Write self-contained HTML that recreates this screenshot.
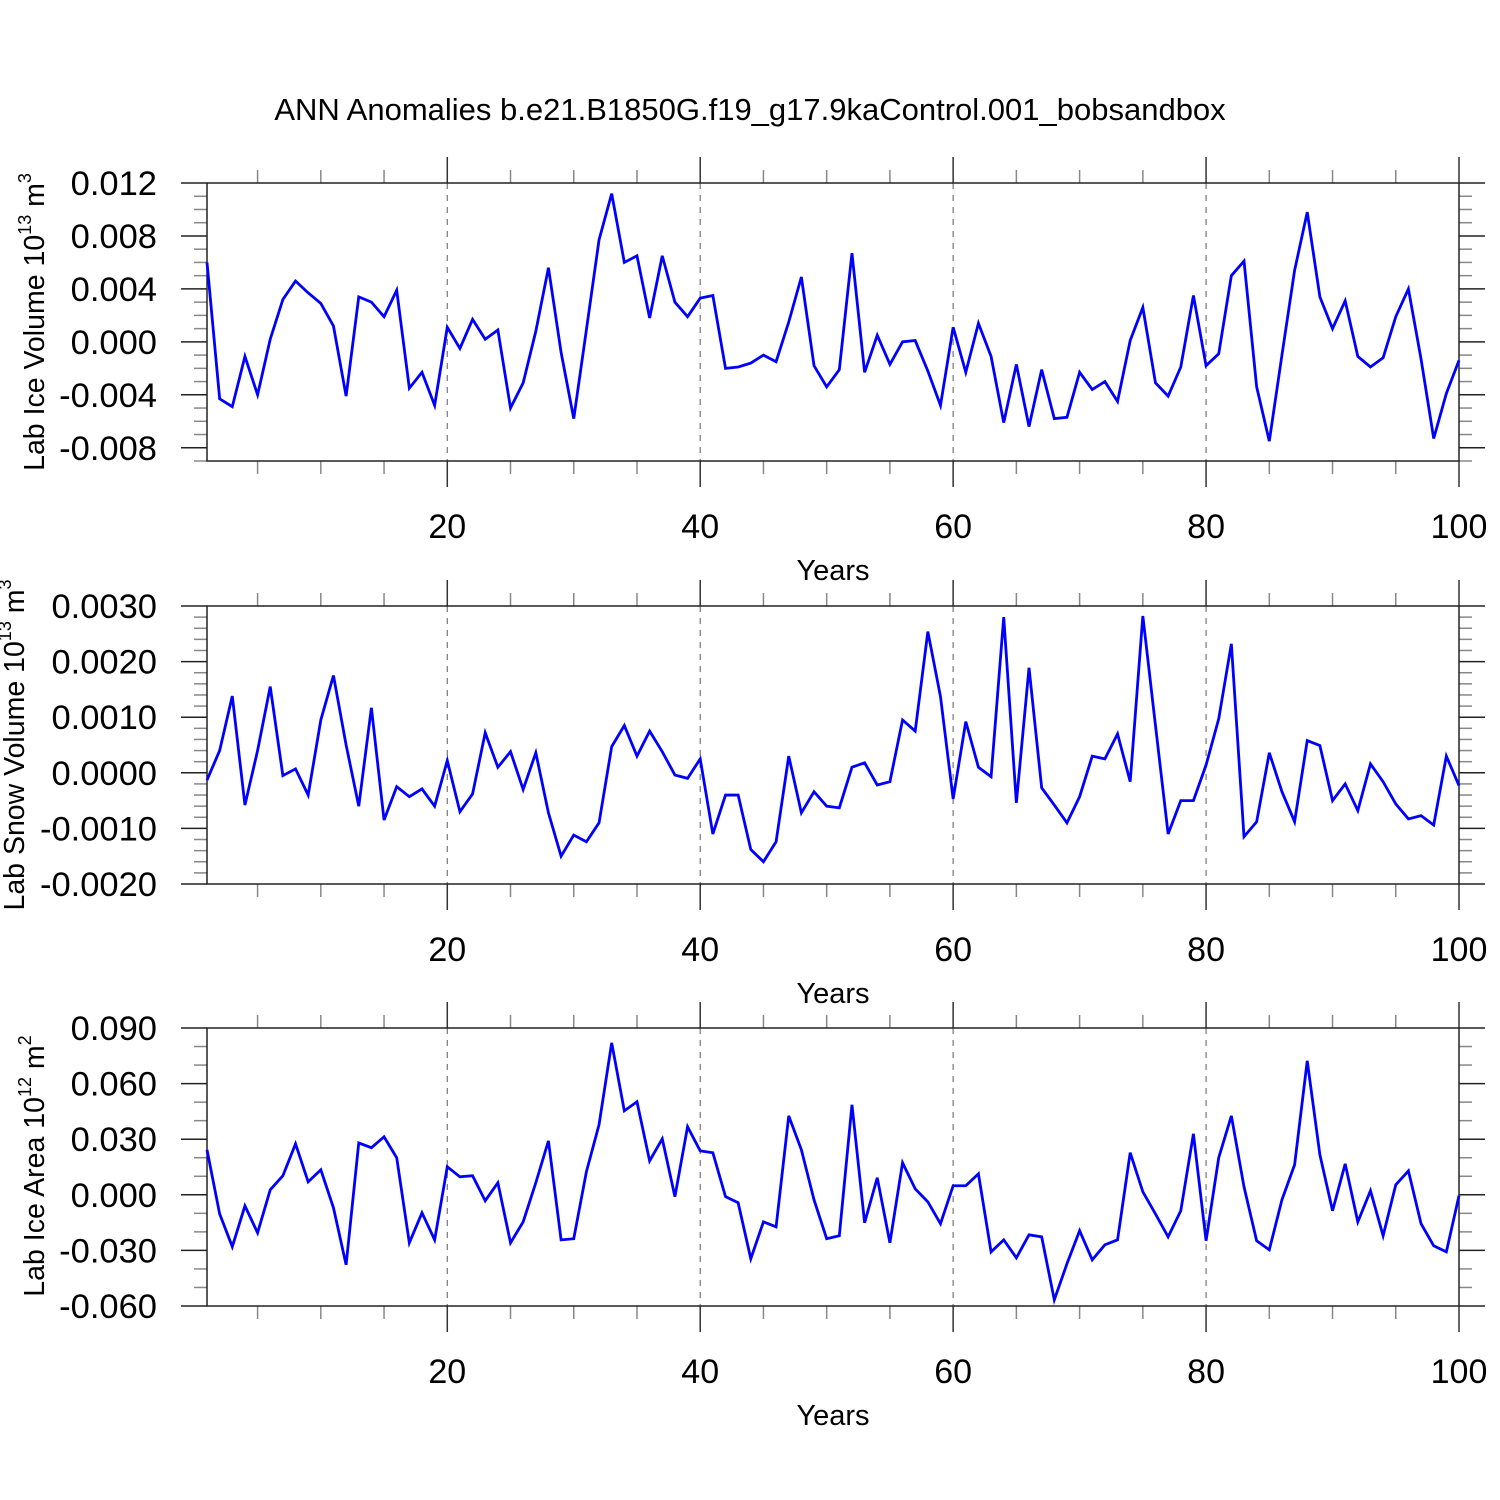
<!DOCTYPE html>
<html><head><meta charset="utf-8"><style>
html,body{margin:0;padding:0;background:#fff;}
svg{display:block;font-family:"Liberation Sans",sans-serif;}
</style></head><body>
<svg id="chart" width="1500" height="1500" viewBox="0 0 1500 1500" xmlns="http://www.w3.org/2000/svg">
<rect width="1500" height="1500" fill="#fff"/>
<text x="750" y="120" font-size="31" text-anchor="middle">ANN Anomalies b.e21.B1850G.f19_g17.9kaControl.001_bobsandbox</text>
</svg>
<script>
const years = Array.from({length:100},(_, i)=>i+1);
const iceVolume = [0.0060,-0.0043,-0.0049,-0.0011,-0.0040,0.0002,0.0032,0.0046,0.0037,0.0029,
0.0012,-0.0041,0.0034,0.0030,0.0019,0.0039,-0.0035,-0.0023,-0.0048,0.0011,
-0.0005,0.0017,0.0002,0.0009,-0.0050,-0.0031,0.0008,0.0056,-0.0008,-0.0058,
0.0009,0.0077,0.0112,0.0060,0.0065,0.0018,0.0065,0.0030,0.0019,0.0033,
0.0035,-0.0020,-0.0019,-0.0016,-0.0010,-0.0015,0.0015,0.0049,-0.0018,-0.0034,
-0.0021,0.0067,-0.0023,0.0005,-0.0017,0.0000,0.0001,-0.0022,-0.0048,0.0011,
-0.0023,0.0014,-0.0011,-0.0061,-0.0017,-0.0064,-0.0021,-0.0058,-0.0057,-0.0023,
-0.0036,-0.0030,-0.0045,0.0001,0.0026,-0.0031,-0.0041,-0.0019,0.0035,-0.0018,
-0.0009,0.0050,0.0061,-0.0034,-0.0075,-0.0010,0.0054,0.0098,0.0034,0.0010,
0.0031,-0.0011,-0.0019,-0.0012,0.0019,0.0040,-0.0013,-0.0073,-0.0039,-0.0014];
const snowVolume = [-0.00013,0.0004,0.00138,-0.00058,0.0004,0.00155,-0.00005,0.00007,-0.0004,0.00095,
0.00175,0.0005,-0.0006,0.00117,-0.00085,-0.00025,-0.00043,-0.00029,-0.0006,0.00022,
-0.0007,-0.00038,0.00072,0.0001,0.00038,-0.0003,0.00036,-0.00072,-0.0015,-0.00112,
-0.00124,-0.0009,0.00047,0.00085,0.0003,0.00075,0.00038,-0.00004,-0.0001,0.00025,
-0.0011,-0.0004,-0.0004,-0.00138,-0.0016,-0.00124,0.0003,-0.00072,-0.00034,-0.0006,
-0.00063,0.0001,0.00018,-0.00022,-0.00016,0.00095,0.00075,0.00254,0.00137,-0.00047,
0.00092,0.0001,-0.00007,0.0028,-0.00054,0.00189,-0.00027,-0.00058,-0.0009,-0.00043,
0.0003,0.00025,0.0007,-0.00016,0.00282,0.00085,-0.0011,-0.0005,-0.0005,0.00014,
0.00097,0.00232,-0.00115,-0.00088,0.00036,-0.00034,-0.00088,0.00058,0.00049,-0.0005,
-0.0002,-0.00068,0.00016,-0.00016,-0.00056,-0.00083,-0.00077,-0.00094,0.0003,-0.00023];
const iceArea = [0.0243,-0.0103,-0.028,-0.006,-0.0205,0.0027,0.0103,0.0275,0.007,0.0135,
-0.007,-0.0378,0.028,0.0254,0.0313,0.02,-0.0259,-0.0097,-0.0243,0.0151,
0.0097,0.0103,-0.0032,0.0065,-0.0259,-0.0146,0.0065,0.0291,-0.0243,-0.0237,
0.0124,0.0378,0.082,0.0453,0.0502,0.0183,0.0302,-0.001,0.0367,0.0237,
0.0227,-0.001,-0.0043,-0.0345,-0.0146,-0.0173,0.0426,0.0243,-0.0027,-0.0237,
-0.0221,0.0486,-0.0151,0.0092,-0.0259,0.0173,0.0032,-0.0038,-0.0156,0.0049,
0.0049,0.0113,-0.0308,-0.0243,-0.034,-0.0216,-0.0227,-0.0567,-0.0372,-0.0194,
-0.0351,-0.027,-0.0243,0.0227,0.0016,-0.0103,-0.0227,-0.0086,0.0329,-0.0248,
0.02,0.0426,0.0043,-0.0248,-0.0297,-0.0027,0.0162,0.0723,0.0216,-0.0086,
0.0167,-0.0146,0.0022,-0.0221,0.0054,0.0129,-0.0156,-0.0275,-0.0308,-0.0005];
const xTickValues = [20,40,60,80,100];
const tickLabels1 = ["0.012","0.008","0.004","0.000","-0.004","-0.008"];
const tickValues1 = [0.012,0.008,0.004,0,-0.004,-0.008];
const tickLabels2 = ["0.0030","0.0020","0.0010","0.0000","-0.0010","-0.0020"];
const tickValues2 = [0.003,0.002,0.001,0,-0.001,-0.002];
const tickLabels3 = ["0.090","0.060","0.030","0.000","-0.030","-0.060"];
const tickValues3 = [0.09,0.06,0.03,0,-0.03,-0.06];

const NS="http://www.w3.org/2000/svg";
const svg=document.getElementById('chart');
const X0=207,X1=1459;
function xs(v){return X0+(v-1)*(X1-X0)/99;}
function mk(tag,attrs,parent){const e=document.createElementNS(NS,tag);for(const k in attrs)e.setAttribute(k,attrs[k]);(parent||svg).appendChild(e);return e;}

const panels=[
 {top:183,min:-0.009,max:0.012,minor:0.001,data:iceVolume,tv:tickValues1,tl:tickLabels1,title:["Lab Ice Volume 10","13"," m","3"],tx:44,ty:322,name:"ice-volume"},
 {top:606,min:-0.002,max:0.003,minor:0.0002,data:snowVolume,tv:tickValues2,tl:tickLabels2,title:["Lab Snow Volume 10","13"," m","3"],tx:24,ty:745,name:"snow-volume"},
 {top:1028,min:-0.06,max:0.09,minor:0.01,data:iceArea,tv:tickValues3,tl:tickLabels3,title:["Lab Ice Area 10","12"," m","2"],tx:44,ty:1166,name:"ice-area"}
];
const H=278;
panels.forEach(p=>{
 const g=mk('g',{});
 
 
 const ys=v=>p.top+(p.max-v)/(p.max-p.min)*H;
 const bot=p.top+H;
 xTickValues.slice(0,4).forEach(v=>{
  const l=mk('line',{x1:xs(v),x2:xs(v),y1:p.top,y2:bot,stroke:'#777','stroke-width':1.2,'stroke-dasharray':'6,6'},g);
  
  
 });
 for(let v=5;v<=100;v+=5){
  const major=v%20===0;const len=major?26:13;
  mk('line',{x1:xs(v),x2:xs(v),y1:p.top-len,y2:p.top,stroke:major?'#333':'#888','stroke-width':1.5},g);
  mk('line',{x1:xs(v),x2:xs(v),y1:bot,y2:bot+len,stroke:major?'#333':'#888','stroke-width':1.5},g);
 }
 const nMin=Math.round((p.max-p.min)/p.minor);
 for(let i=0;i<=nMin;i++){
  const v=p.min+i*p.minor;const y=ys(v);
  const isMajor=p.tv.some(t=>Math.abs(t-v)<p.minor*0.01);
  const len=isMajor?26:13;
  mk('line',{x1:X0-len,x2:X0,y1:y,y2:y,stroke:isMajor?'#222':'#888','stroke-width':1.5},g);
  mk('line',{x1:X1,x2:X1+len,y1:y,y2:y,stroke:isMajor?'#222':'#888','stroke-width':1.5},g);
 }
 const fr=mk('rect',{x:X0,y:p.top,width:X1-X0,height:H,fill:'none',stroke:'#222','stroke-width':1.5},g);
 
 
 p.tv.forEach((v,i)=>{
  const t=mk('text',{x:157,y:ys(v)+12,'font-size':34.5,'text-anchor':'end'},g);
  t.textContent=p.tl[i];
  
  
 });
 xTickValues.forEach(v=>{
  const t=mk('text',{x:xs(v),y:bot+77,'font-size':34,'text-anchor':'middle'},g);
  t.textContent=String(v);
  
  
 });
 const xt=mk('text',{x:833,y:bot+119,'font-size':29,'text-anchor':'middle'},g);
 xt.textContent='Years';
 
 
 const yt=mk('text',{x:p.tx,y:p.ty,'font-size':28.5,'text-anchor':'middle',transform:`rotate(-90 ${p.tx} ${p.ty})`},g);
 
 
 p.title.forEach((s,i)=>{
  const ts=mk('tspan',{},yt);
  if(i%2===1){ts.setAttribute('font-size','18');ts.setAttribute('dy','-13');}
  else if(i>0){ts.setAttribute('dy','13');}
  ts.textContent=s;
 });
 const pts=p.data.map((v,i)=>xs(years[i]).toFixed(2)+','+ys(v).toFixed(2)).join(' ');
 const pl=mk('polyline',{points:pts,fill:'none',stroke:'#0000ff','stroke-width':2.8,'stroke-linejoin':'miter'},g);
 
 
});
</script>
</body></html>
